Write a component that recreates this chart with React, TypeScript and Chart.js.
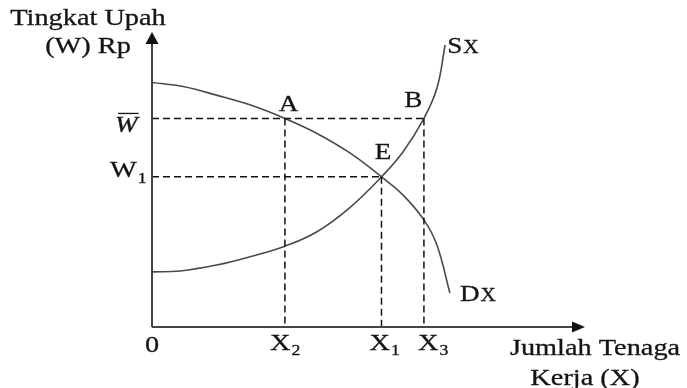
import React, { useEffect, useRef } from "react";
import { Chart, registerables } from "chart.js";

Chart.register(...registerables);

// ---- Data (diagram units) ----
const demandX = [0, 0.72, 1.49, 2.26, 3.07, 3.8, 4.57, 5.3, 5.8, 6.28, 6.58, 6.88];
const demandY = [8.29, 8.15, 7.86, 7.53, 7.07, 6.57, 5.9, 5.09, 4.47, 3.63, 2.78, 1.15];
const supplyX = [0, 0.65, 1.49, 2.26, 3.07, 3.8, 4.57, 5.3, 5.8, 6.28, 6.58, 6.77];
const supplyY = [1.87, 1.9, 2.1, 2.38, 2.74, 3.22, 4.05, 5.09, 5.94, 7.07, 8.09, 9.56];

const xMarks = [3.07, 5.3, 6.28]; // X2, X1, X3
const xMarkSubs = ["2", "1", "3"];
const wMarks = [7.07, 5.09]; // W-bar, W1

const X_MAX = 10;
const Y_MAX = 10;

const yTitle = ["Tingkat Upah", "(W) Rp"];
const xTitle = ["Jumlah Tenaga", "Kerja (X)"];
const pointLabels = ["A", "B", "E"];

const FONT = '"Liberation Serif", "Times New Roman", serif';
const SX = 1.18;
const TEXT = "#141414";

function measure(ctx: CanvasRenderingContext2D, s: string, size: number, italic = false) {
  ctx.save();
  ctx.font = `${italic ? "italic " : ""}${size}px ${FONT}`;
  const w = ctx.measureText(s).width * SX;
  ctx.restore();
  return w;
}

function txt(
  ctx: CanvasRenderingContext2D,
  s: string,
  x: number,
  y: number,
  size: number,
  align: "left" | "center" | "right" = "left",
  italic = false
) {
  const w = measure(ctx, s, size, italic);
  let left = x;
  if (align === "center") left = x - w / 2;
  else if (align === "right") left = x - w;
  ctx.save();
  ctx.font = `${italic ? "italic " : ""}${size}px ${FONT}`;
  ctx.fillStyle = TEXT;
  ctx.strokeStyle = TEXT;
  ctx.lineWidth = 0.3;
  ctx.textAlign = "left";
  ctx.textBaseline = "alphabetic";
  ctx.translate(left, y);
  ctx.scale(SX, 1);
  ctx.fillText(s, 0, 0);
  ctx.strokeText(s, 0, 0);
  ctx.restore();
  return w;
}

function subText(
  ctx: CanvasRenderingContext2D,
  main: string,
  sub: string,
  left: number,
  y: number,
  size: number,
  subSize: number,
  drop: number
) {
  const w = txt(ctx, main, left, y, size, "left");
  txt(ctx, sub, left + w + 1, y + drop, subSize, "left");
}

const diagramPlugin = {
  id: "diagram",
  afterDraw(chart: any) {
    const { ctx, scales } = chart;
    const xs = scales.x;
    const ys = scales.y;
    const x0 = xs.getPixelForValue(0);
    const y0 = ys.getPixelForValue(0);
    const yTop = ys.getPixelForValue(Y_MAX);
    const xRight = xs.getPixelForValue(X_MAX);

    ctx.save();
    // axes
    ctx.strokeStyle = "#444";
    ctx.fillStyle = "#111";
    ctx.lineWidth = 2;
    ctx.beginPath();
    ctx.moveTo(x0, y0);
    ctx.lineTo(x0, yTop + 10);
    ctx.moveTo(x0, y0);
    ctx.lineTo(xRight - 11, y0);
    ctx.stroke();
    ctx.beginPath();
    ctx.moveTo(x0, yTop);
    ctx.lineTo(x0 - 6.5, yTop + 12);
    ctx.lineTo(x0 + 6.5, yTop + 12);
    ctx.closePath();
    ctx.fill();
    ctx.beginPath();
    ctx.moveTo(xRight, y0);
    ctx.lineTo(xRight - 13, y0 - 5.5);
    ctx.lineTo(xRight - 13, y0 + 5.5);
    ctx.closePath();
    ctx.fill();
    ctx.restore();

    // y title
    txt(ctx, yTitle[0], x0 - 64, yTop - 7, 24, "center");
    txt(ctx, yTitle[1], x0 - 64, yTop + 21, 24, "center");

    // x title
    txt(ctx, xTitle[0], xRight + 10, y0 + 28, 24, "center");
    txt(ctx, xTitle[1], xRight + 0, y0 + 58, 24, "center");

    // W-bar
    const wbY = ys.getPixelForValue(wMarks[0]);
    const wW = measure(ctx, "W", 23, true);
    const wLeft = x0 - 37;
    txt(ctx, "W", wLeft, wbY + 14, 23, "left", true);
    ctx.save();
    ctx.strokeStyle = TEXT;
    ctx.lineWidth = 1.3;
    ctx.beginPath();
    ctx.moveTo(wLeft + 3, wbY - 5);
    ctx.lineTo(wLeft + wW + 1, wbY - 5);
    ctx.stroke();
    ctx.restore();

    // W1
    const w1Y = ys.getPixelForValue(wMarks[1]);
    subText(ctx, "W", "1", x0 - 42, w1Y, 24, 15, 6);

    // origin
    txt(ctx, "0", x0, y0 + 25, 24, "center");

    // X marks
    const offs = [-15, -12, -6];
    xMarks.forEach((v, i) => {
      const px = xs.getPixelForValue(v);
      subText(ctx, "X", xMarkSubs[i], px + offs[i], y0 + 23, 24, 15, 5);
    });

    // point labels
    const aX = xs.getPixelForValue(xMarks[0]);
    const bX = xs.getPixelForValue(xMarks[2]);
    const eX = xs.getPixelForValue(xMarks[1]);
    txt(ctx, pointLabels[0], aX + 3.5, wbY - 7, 23, "center");
    txt(ctx, pointLabels[1], bX - 10.5, wbY - 11, 23, "center");
    txt(ctx, pointLabels[2], eX + 1.5, w1Y - 18, 23, "center");

    // curve labels
    const sEndX = xs.getPixelForValue(supplyX[supplyX.length - 1]);
    const sEndY = ys.getPixelForValue(supplyY[supplyY.length - 1]);
    const sw = txt(ctx, "S", sEndX + 2, sEndY + 8, 23, "left");
    txt(ctx, "X", sEndX + 3 + sw, sEndY + 8, 18, "left");
    const dEndX = xs.getPixelForValue(demandX[demandX.length - 1]);
    const dEndY = ys.getPixelForValue(demandY[demandY.length - 1]);
    const dw = txt(ctx, "D", dEndX + 10, dEndY + 8, 23, "left");
    txt(ctx, "X", dEndX + 11 + dw, dEndY + 8, 18, "left");
  },
};

function pts(xsArr: number[], ysArr: number[]) {
  return xsArr.map((x, i) => ({ x, y: ysArr[i] }));
}

function curve(xsArr: number[], ysArr: number[]) {
  return {
    data: pts(xsArr, ysArr),
    showLine: true,
    borderColor: "#4a4a4a",
    borderWidth: 1.6,
    pointRadius: 0,
    fill: false,
    tension: 0.4,
  };
}

function dashed(xsArr: number[], ysArr: number[]) {
  return {
    data: pts(xsArr, ysArr),
    showLine: true,
    borderColor: "#111",
    borderWidth: 1.5,
    borderDash: [7, 4],
    pointRadius: 0,
    fill: false,
    tension: 0,
  };
}

export default function App() {
  const ref = useRef<HTMLCanvasElement | null>(null);
  useEffect(() => {
    if (!ref.current) return;
    const [X2, X1, X3] = xMarks;
    const [WB, W1] = wMarks;
    const chart = new Chart(ref.current, {
      type: "scatter",
      data: {
        datasets: [
          dashed([0, X3], [WB, WB]),
          dashed([0, X1], [W1, W1]),
          dashed([X2, X2], [WB, 0]),
          dashed([X1, X1], [W1, 0]),
          dashed([X3, X3], [WB, 0]),
          curve(demandX, demandY),
          curve(supplyX, supplyY),
        ] as any,
      },
      options: {
        animation: false,
        responsive: false,
        events: [],
        layout: { padding: { left: 152, right: 102, top: 32, bottom: 61 } },
        plugins: {
          legend: { display: false },
          tooltip: { enabled: false },
          title: { display: false },
        },
        scales: {
          x: { type: "linear", min: 0, max: X_MAX, display: false },
          y: { type: "linear", min: 0, max: Y_MAX, display: false },
        },
      },
      plugins: [diagramPlugin],
    });
    return () => chart.destroy();
  }, []);
  return (
    <div
      style={{
        position: "fixed",
        left: 0,
        top: 0,
        width: 687,
        height: 388,
        background: "#fff",
      }}
    >
      <canvas ref={ref} width={687} height={388} style={{ width: 687, height: 388 }} />
    </div>
  );
}
